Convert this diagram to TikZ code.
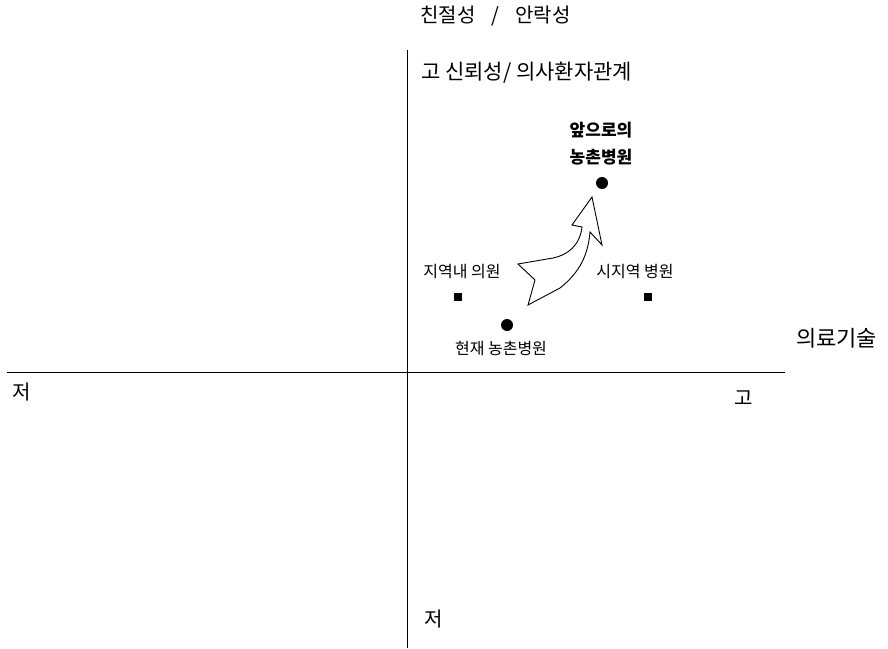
\documentclass[tikz,border=0pt]{standalone}
\usepackage{fontspec}
\setmainfont{Noto Sans CJK KR}
\newfontfamily\kr{Noto Sans CJK KR}
\begin{document}
\begin{tikzpicture}[x=1pt,y=-1pt,
  axisline/.style={draw=black, line width=0.8pt},
  titletext/.style={font=\kr\fontsize{20}{24}\selectfont, inner sep=0pt},
  subtitletext/.style={font=\kr\fontsize{21}{24}\selectfont, inner sep=0pt},
  endtext/.style={font=\kr\fontsize{20}{24}\selectfont, inner sep=0pt},
  axistext/.style={font=\kr\fontsize{22}{26}\selectfont, inner sep=0pt},
  smalltext/.style={font=\kr\fontsize{16}{18}\selectfont, inner sep=0pt},
  boldtext/.style={font=\kr\bfseries\fontsize{17}{27}\selectfont, inner sep=0pt, align=center},
  sqmark/.style={fill=black, minimum size=7.5pt, inner sep=0pt},
  dotmark/.style={circle, fill=black, minimum size=12pt, inner sep=0pt},
  bigarrow/.style={draw=black, line width=0.9pt, fill=white, line join=miter}
]
\useasboundingbox (0,0) rectangle (888,648);
% axes
\coordinate (vtop) at (407,50);
\coordinate (vbot) at (407,648);
\coordinate (hl) at (7,372);
\coordinate (hr) at (785,372);
\draw[axisline] (vtop) -- (vbot);
\draw[axisline] (hl) -- (hr);
% axis texts
\node[titletext, anchor=west] (ytitle) at (420,16) {친절성\hspace{0.8em}/\hspace{0.8em}안락성};
\node[subtitletext, anchor=west] (yhigh) at (421,73) {고 신뢰성/ 의사환자관계};
\node[axistext, anchor=west] (xtitle) at (796,338) {의료기술};
\node[endtext] (xlow) at (22,392) {저};
\node[endtext] (xhigh) at (744,398) {고};
\node[endtext] (ylow) at (434,619) {저};
% markers
\node[sqmark] (sqA) at (458,297) {};
\node[sqmark] (sqB) at (648,297) {};
\node[dotmark] (now) at (507,325) {};
\node[dotmark] (future) at (602,183) {};
% labels
\node[smalltext] (labA) at (462,272) {지역내 의원};
\node[smalltext] (labB) at (635,272) {시지역 병원};
\node[smalltext] (labNow) at (501,348) {현재 농촌병원};
\node[boldtext] (labFuture) at (601,144) {앞으로의\\농촌병원};
% block arrow
\draw[bigarrow] (592,197) -- (602,245) -- (590,232)
  .. controls (588,255) and (580,272) .. (560,288)
  -- (528,305) -- (535,280) -- (518,264)
  -- (553,258) .. controls (568,255) and (580,245) .. (582,227)
  -- (572,225) -- cycle;
\end{tikzpicture}
\end{document}
